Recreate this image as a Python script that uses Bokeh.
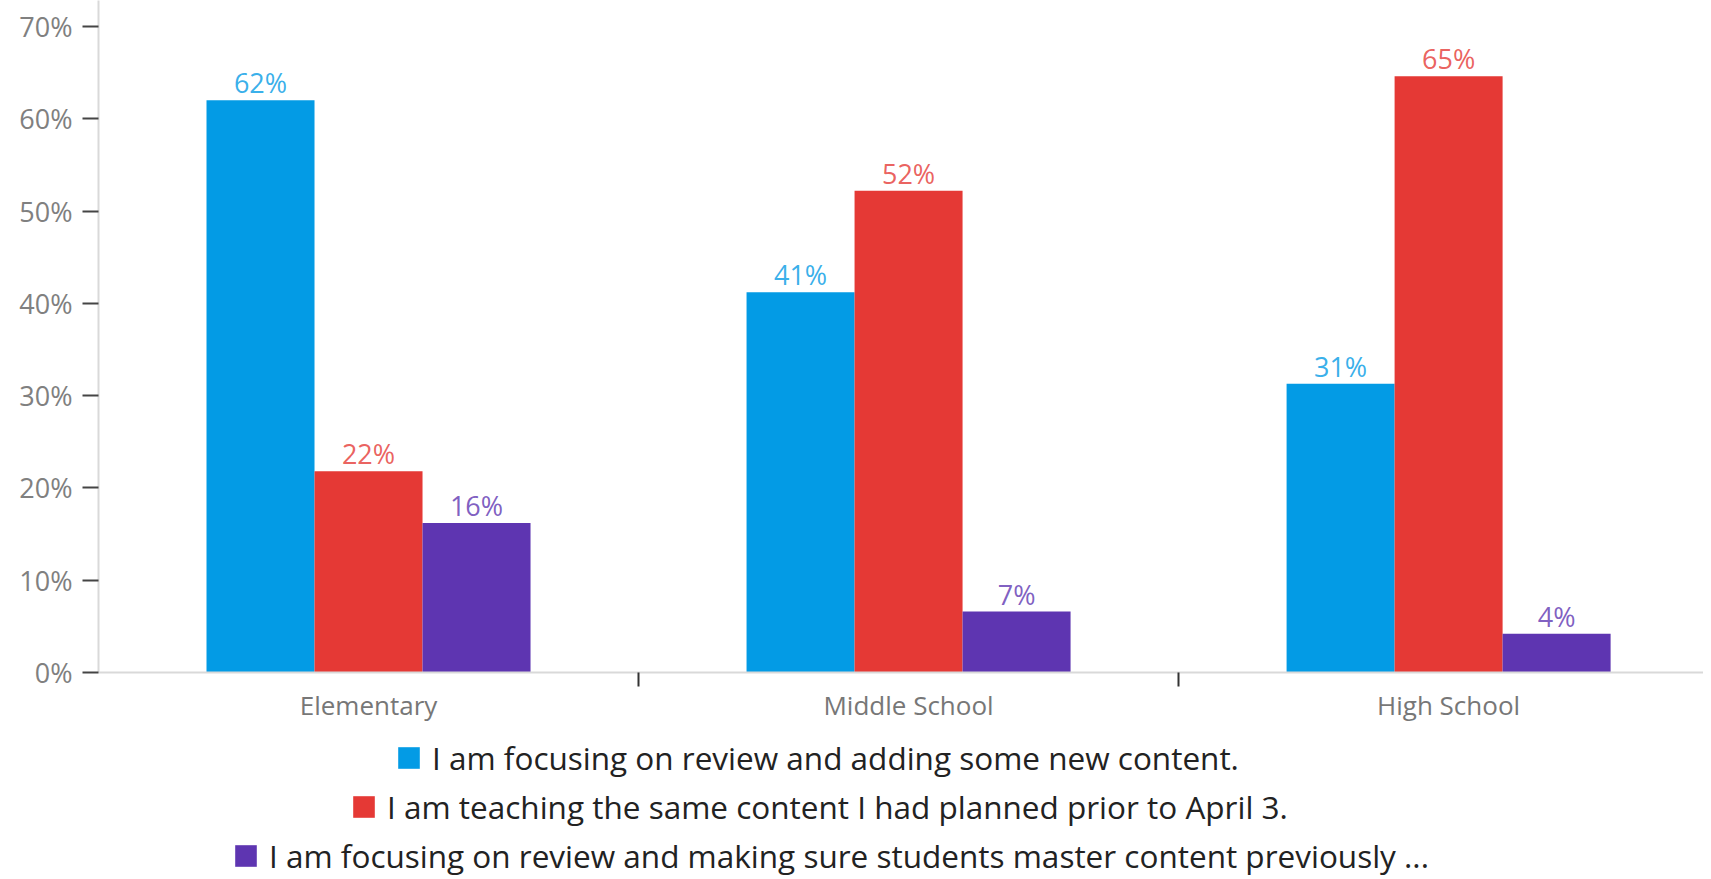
from bokeh.plotting import figure
from bokeh.layouts import column
from bokeh.models import (ColumnDataSource, Range1d, FixedTicker, PrintfTickFormatter,
                          Legend, LegendItem, LabelSet)
from bokeh.core.properties import value
from bokeh.embed import file_html
from bokeh.resources import INLINE

categories = ["Elementary", "Middle School", "High School"]
series_names = [
    "I am focusing on review and adding some new content.",
    "I am teaching the same content I had planned prior to April 3.",
    "I am focusing on review and making sure students master content previously ...",
]
focus_new = [62.0, 41.2, 31.3]
same_content = [21.8, 52.2, 64.6]
master_prev = [16.2, 6.6, 4.2]
y_ticks = [0, 10, 20, 30, 40, 50, 60, 70]

colors = ["#039BE5", "#E53935", "#5E35B1"]
FONT = "Open Sans"
W = 1703

p = figure(width=W, height=725, output_backend="svg", toolbar_location=None,
           x_range=Range1d(0, 2.972), y_range=Range1d(0, 72.82),
           min_border_left=98, min_border_right=0, min_border_top=0,
           min_border_bottom=53)
p.outline_line_color = None
p.xgrid.visible = False
p.ygrid.visible = False

bar_w = 0.2
offsets = [-bar_w, 0.0, bar_w]
all_series = [focus_new, same_content, master_prev]
for vals, off, col in zip(all_series, offsets, colors):
    xs = [i + 0.5 + off for i in range(len(categories))]
    src = ColumnDataSource(dict(x=xs, top=vals,
                                lbl=["%d%%" % int(round(v)) for v in vals]))
    p.vbar(x="x", top="top", bottom=0, width=bar_w, source=src,
           fill_color=col, line_color=None)
    labels = LabelSet(x="x", y="top", text="lbl", source=src, text_align="center",
                      text_baseline="bottom", y_offset=-1, text_color=col,
                      text_font=value(FONT), text_font_size="27px", text_alpha=0.8)
    p.add_layout(labels)

# y axis
ya = p.yaxis[0]
ya.ticker = FixedTicker(ticks=y_ticks)
ya.formatter = PrintfTickFormatter(format="%d%%")
ya.axis_line_color = "#d9d9d9"
ya.axis_line_width = 2
ya.major_tick_out = 16
ya.major_tick_in = 0
ya.major_tick_line_color = "#444444"
ya.major_tick_line_width = 2
ya.minor_tick_line_color = None
ya.major_label_standoff = 10
ya.major_label_text_font = FONT
ya.major_label_text_font_size = "27px"
ya.major_label_text_color = "#808080"

# x axis: labels at group centres, separator ticks between groups
xa = p.xaxis[0]
centers = [i + 0.5 for i in range(len(categories))]
bounds = [float(i) for i in range(1, len(categories))]
xa.ticker = FixedTicker(ticks=centers, minor_ticks=bounds)
xa.major_label_overrides = {c: n for c, n in zip(centers, categories)}
xa.axis_line_color = "#d9d9d9"
xa.axis_line_width = 2
xa.major_tick_out = 0
xa.major_tick_in = 0
xa.major_tick_line_color = None
xa.minor_tick_out = 14
xa.minor_tick_in = 0
xa.minor_tick_line_color = "#333333"
xa.minor_tick_line_width = 2
xa.major_label_standoff = 0
xa.major_label_text_font = FONT
xa.major_label_text_font_size = "26px"
xa.major_label_text_color = "#777777"

# legend strip below the chart
H2 = 154
p2 = figure(width=W, height=H2, output_backend="svg", toolbar_location=None,
            x_range=Range1d(0, 1), y_range=Range1d(0, 1),
            min_border_left=0, min_border_right=0, min_border_top=0,
            min_border_bottom=0)
p2.outline_line_color = None
p2.axis.visible = False
p2.xgrid.visible = False
p2.ygrid.visible = False

leg_pos = [(297, 100), (252, 51), (134, 2)]
for name, col, pos in zip(series_names, colors, leg_pos):
    # zero-height proxy so the legend can show the series colour
    r = p2.vbar(x=[0], top=[0], bottom=0, width=0.01, fill_color=col, line_color=None)
    leg = Legend(items=[LegendItem(label=name, renderers=[r])], location=pos,
                 orientation="vertical", margin=0, padding=0, spacing=0,
                 glyph_width=27, glyph_height=27, label_height=24,
                 label_standoff=10, border_line_color=None,
                 background_fill_alpha=0, label_text_font=FONT,
                 label_text_font_size="31.5px", label_text_color="#222222")
    p2.add_layout(leg)

layout = column(p, p2, spacing=0)
open("out.html", "w").write(file_html(layout, INLINE))
